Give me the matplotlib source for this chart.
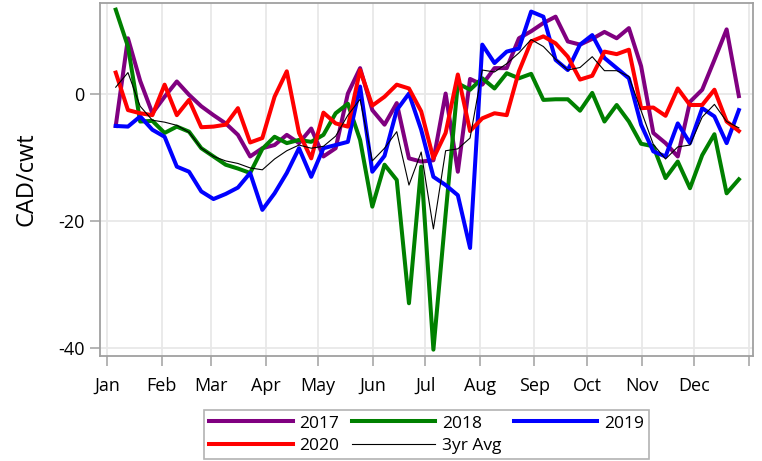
import numpy as np
import matplotlib
matplotlib.use("Agg")
import matplotlib.pyplot as plt

plt.rcParams['font.family'] = ['Open Sans', 'DejaVu Sans']

months = ['Jan', 'Feb', 'Mar', 'Apr', 'May', 'Jun', 'Jul', 'Aug', 'Sep', 'Oct', 'Nov', 'Dec']
month_start_day = [0, 31, 59, 90, 120, 151, 181, 212, 243, 273, 304, 334, 365]

# weekly observations (day of year of each weekly point)
week_day = 4.8 + 6.95 * np.arange(52)

y2017 = [-5.1, 8.7, 2.0, -3.1, -0.5, 1.9, -0.2, -2.0, -3.4, -4.7,
         -6.5, -9.9, -8.6, -8.1, -6.5, -7.8, -5.5, -9.9, -8.6, 0.0,
         4.0, -2.6, -4.9, -1.5, -10.2, -10.7, -10.5, 0.0, -12.3, 2.3,
         1.4, 4.0, 4.0, 8.7, 9.8, 11.1, 12.1, 8.2, 7.7, 8.6,
         9.7, 8.7, 10.3, 4.3, -6.2, -7.8, -9.9, -1.3, 0.6, 5.3,
         10.1, -0.4]
y2018 = [13.2, 7.4, -4.4, -4.3, -6.2, -5.2, -6.0, -8.6, -9.9, -11.2,
         -11.8, -12.5, -8.7, -6.8, -7.8, -7.3, -7.6, -6.5, -3.1, -1.6,
         -7.3, -17.8, -11.2, -13.6, -33.0, -11.5, -40.3, -19.0, 1.6, 0.6,
         2.4, 0.8, 3.2, 2.4, 3.1, -1.0, -0.9, -0.9, -2.7, 0.1,
         -4.4, -1.8, -4.4, -7.9, -8.3, -13.3, -10.7, -14.9, -9.7, -6.4,
         -15.7, -13.5]
y2019 = [-5.1, -5.2, -3.6, -5.7, -6.8, -11.5, -12.3, -15.4, -16.6, -15.8,
         -14.8, -12.5, -18.3, -15.7, -12.5, -8.6, -13.1, -8.6, -8.1, -7.6,
         1.1, -12.3, -9.8, -2.6, 0.0, -5.7, -13.1, -14.4, -16.0, -24.3,
         7.7, 4.8, 6.6, 7.1, 12.9, 12.1, 5.3, 3.7, 7.7, 9.2,
         5.6, 4.0, 2.4, -4.9, -9.1, -9.9, -4.7, -7.8, -2.3, -3.6,
         -7.8, -2.6]
y2020 = [3.3, -2.6, -3.1, -3.4, 1.4, -3.4, -1.0, -5.3, -5.2, -4.9,
         -2.3, -7.7, -7.0, -0.5, 3.5, -6.2, -10.2, -3.0, -4.7, -5.2,
         3.7, -1.9, -0.5, 1.4, 0.8, -2.8, -10.2, -6.2, 3.0, -5.9,
         -3.9, -3.1, -3.4, 3.5, 8.2, 9.0, 7.9, 5.8, 2.2, 2.8,
         6.6, 6.2, 6.9, -2.3, -2.2, -3.5, 0.8, -1.8, -1.8, 0.6,
         -4.4, -5.9]
avg3yr = [1.0, 3.3, -2.0, -4.2, -4.5, -5.0, -6.1, -8.6, -9.9, -10.6,
          -11.0, -11.7, -12.0, -10.3, -9.0, -8.1, -8.6, -8.3, -6.7, -3.4,
          -0.9, -10.6, -8.6, -6.0, -14.4, -9.2, -21.3, -9.0, -8.7, -7.0,
          3.7, 3.4, 4.7, 6.4, 8.5, 7.4, 5.4, 3.7, 4.1, 5.8,
          3.6, 3.6, 2.7, -2.7, -8.0, -10.3, -8.4, -8.1, -3.7, -1.7,
          -4.4, -5.4]

W, H = 762, 461
fig = plt.figure(figsize=(W / 100, H / 100), dpi=100)
ax = fig.add_axes([100 / W, 1 - 356 / H, 653 / W, 353 / H])

lw = 2.9
l17, = ax.plot(week_day, y2017, color='#800080', lw=lw, label='2017')
l18, = ax.plot(week_day, y2018, color='#008000', lw=lw, label='2018')
l19, = ax.plot(week_day, y2019, color='#0000FF', lw=lw, label='2019')
l20, = ax.plot(week_day, y2020, color='#FF0000', lw=lw, label='2020')
lav, = ax.plot(week_day, avg3yr, color='black', lw=0.8, label='3yr Avg')

ax.set_xlim(-4.15, 367.3)
ax.set_ylim(-41.3, 14.25)
ax.set_xticks(month_start_day)
ax.set_xticklabels(months + [''])
ax.set_yticks([-40, -20, 0])
ax.set_yticklabels(['-40', '-20', '0'])

ax.grid(True, color='#e8e8e8', lw=1.3)
ax.set_axisbelow(True)
for s in ax.spines.values():
    s.set_color('#a0a0a0')
    s.set_linewidth(1.3)
ax.tick_params(axis='both', direction='out', length=7, width=1.1, color='#a0a0a0',
               labelsize=13, labelcolor='black')
ax.tick_params(axis='x', pad=8)
ax.tick_params(axis='y', pad=4)
ax.set_ylabel('CAD/cwt', fontsize=17, labelpad=14)

handles = [l17, l20, l18, lav, l19]
leg = fig.legend(handles=handles, labels=[h.get_label() for h in handles],
                 ncol=3, loc='lower center', bbox_to_anchor=(426.5 / W, 2 / H),
                 fontsize=12.5, frameon=True, fancybox=False, edgecolor='#a0a0a0',
                 handlelength=4.8, handletextpad=0.4, columnspacing=0.7,
                 borderpad=0.3, labelspacing=0.35, borderaxespad=0)
leg.get_frame().set_linewidth(1.2)

fig.savefig('out.png', dpi=100)
